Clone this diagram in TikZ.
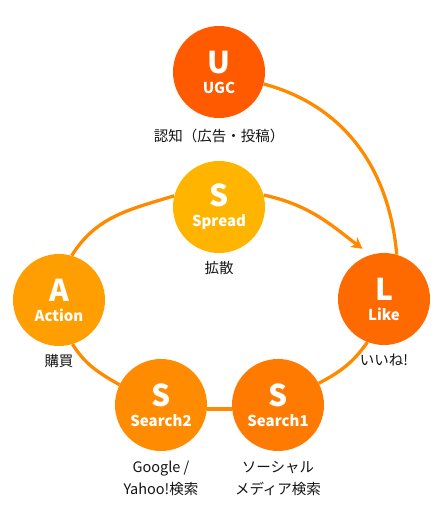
\documentclass[tikz,border=0pt]{standalone}
\usepackage{fontspec}
\setmainfont{Noto Sans CJK JP}
\usetikzlibrary{arrows.meta,positioning,backgrounds}
\definecolor{ugcC}{RGB}{255,90,0}
\definecolor{spreadC}{RGB}{255,180,0}
\definecolor{actionC}{RGB}{255,158,0}
\definecolor{likeC}{RGB}{255,106,0}
\definecolor{srchTwoC}{RGB}{255,140,0}
\definecolor{srchOneC}{RGB}{255,122,0}
\definecolor{ringC}{RGB}{255,138,0}
\definecolor{txtC}{RGB}{20,20,20}
\newcommand{\stageKey}[1]{{\fontsize{30}{20}\selectfont #1}}

\begin{document}
\begin{tikzpicture}[x=1pt,y=1pt,
  stage/.style={circle,fill=#1,minimum size=92pt,inner sep=0pt,text=white,
    align=center,font=\bfseries\fontsize{15}{20}\selectfont},
  lbl/.style={inner sep=0pt,align=center,text=txtC,font=\fontsize{14.5}{22}\selectfont},
  ring/.style={draw=ringC,line width=3.3pt}]
  \useasboundingbox (0,0) rectangle (443,512);
  % the six stages
  \node[stage=ugcC]     (U)       at (219,440) {\stageKey{U}\\UGC};
  \node[stage=spreadC]  (Spread)  at (219,305) {\stageKey{S}\\Spread};
  \node[stage=actionC]  (A)       at (59,212)  {\stageKey{A}\\Action};
  \node[stage=likeC]    (L)       at (384,213) {\stageKey{L}\\Like};
  \node[stage=srchTwoC] (Search2) at (161,107) {\stageKey{S}\\Search2};
  \node[stage=srchOneC] (Search1) at (278,107) {\stageKey{S}\\Search1};
  % captions
  \node[lbl,below=10.5pt of U]      (uTxt)      {認知（広告・投稿）};
  \node[lbl,below=8pt of Spread]    (spreadTxt) {拡散};
  \node[lbl,below=8pt of A]         (aTxt)      {購買};
  \node[lbl,below=8.5pt of L]       (lTxt)      {いいね!};
  \node[lbl,below=9.5pt of Search2] (s2Txt)     {Google /\\Yahoo!検索};
  \node[lbl,below=9.5pt of Search1] (s1Txt)     {ソーシャル\\メディア検索};
  % the cycle
  \begin{scope}[on background layer]
    \draw[ring] (U.-15) to[out=-15,in=95] (L.74);
    \draw[ring,-{Stealth[length=11pt,width=12pt,inset=3pt]},shorten >=10pt]
      (Spread.15) to[out=-12,in=143] (L.107);
    \draw[ring] (A.74) to[out=58,in=197] (Spread.166);
    \draw[ring] (A.-73) to[out=-58,in=150] (Search2.154);
    \draw[ring] (Search2.-5) -- (Search1.-175);
    \draw[ring] (Search1.28) to[out=28,in=235] (L.-111);
  \end{scope}
\end{tikzpicture}
\end{document}
